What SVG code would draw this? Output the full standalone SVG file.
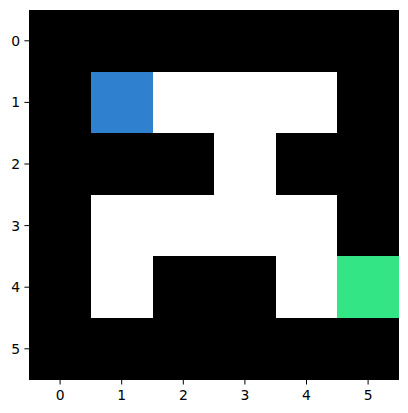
<svg xmlns="http://www.w3.org/2000/svg" width="408" height="413" viewBox="0 0 408 413">
<style>
.t{font-family:"DejaVu Sans",sans-serif;font-size:13.9px;fill:#000}
.xl{text-anchor:middle}
.yl{text-anchor:end;dominant-baseline:central}
.tk{stroke:#000;stroke-width:1}
.w{fill:#fff}
</style>
<rect width="408" height="413" fill="#fff"/>
<g id="grid" shape-rendering="crispEdges">
<rect x="29.3" y="10" width="369.6" height="369.6" fill="#000"/>
<rect id="start" x="90.9" y="71.6" width="61.6" height="61.6" fill="#3080d0"/>
<rect class="w" x="152.5" y="71.6" width="184.8" height="61.6"/>
<rect class="w" x="214.1" y="133.2" width="61.6" height="61.6"/>
<rect class="w" x="90.9" y="194.8" width="246.4" height="61.6"/>
<rect class="w" x="90.9" y="256.4" width="61.6" height="61.6"/>
<rect class="w" x="275.7" y="256.4" width="61.6" height="61.6"/>
<rect id="goal" x="337.3" y="256.4" width="61.6" height="61.6" fill="#33e584"/>
</g>
<g id="xaxis">
<path class="tk" d="M60.1 379.6v4.9M121.7 379.6v4.9M183.3 379.6v4.9M244.9 379.6v4.9M306.5 379.6v4.9M368.1 379.6v4.9"/>
<text class="t xl" x="60.1" y="400">0</text>
<text class="t xl" x="121.7" y="400">1</text>
<text class="t xl" x="183.3" y="400">2</text>
<text class="t xl" x="244.9" y="400">3</text>
<text class="t xl" x="306.5" y="400">4</text>
<text class="t xl" x="368.1" y="400">5</text>
</g>
<g id="yaxis">
<path class="tk" d="M24.4 40.8h4.9M24.4 102.4h4.9M24.4 164h4.9M24.4 225.6h4.9M24.4 287.2h4.9M24.4 348.8h4.9"/>
<text class="t yl" x="20" y="40.8">0</text>
<text class="t yl" x="20" y="102.4">1</text>
<text class="t yl" x="20" y="164">2</text>
<text class="t yl" x="20" y="225.6">3</text>
<text class="t yl" x="20" y="287.2">4</text>
<text class="t yl" x="20" y="348.8">5</text>
</g>
</svg>
